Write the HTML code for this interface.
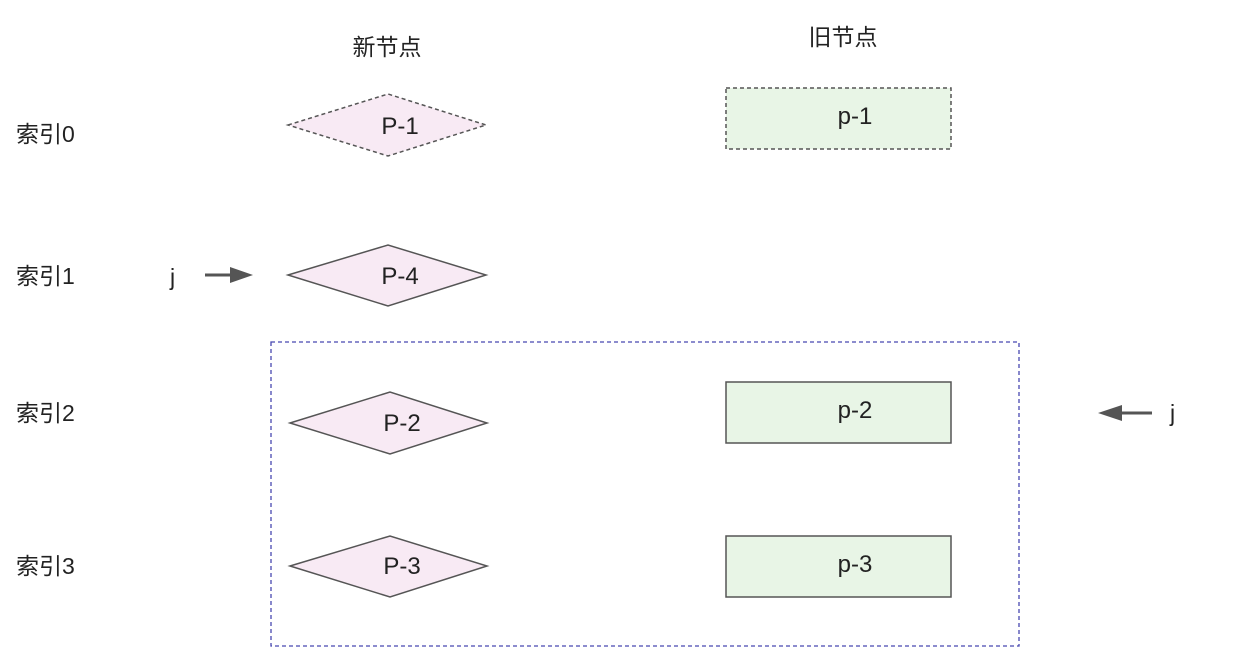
<!DOCTYPE html>
<html><head><meta charset="utf-8"><style>
html,body{margin:0;padding:0;background:#fff;width:1235px;height:652px;overflow:hidden}
svg text{font-family:"Liberation Sans","Noto Sans CJK SC",sans-serif;fill:#222}
</style></head><body>
<svg width="1235" height="652" viewBox="0 0 1235 652">
<g font-size="23">
<text x="387" y="55" text-anchor="middle">新节点</text>
<text x="843" y="45" text-anchor="middle">旧节点</text>
<text x="16" y="142">索引0</text>
<text x="16" y="284">索引1</text>
<text x="16" y="421">索引2</text>
<text x="16" y="574">索引3</text>
<text x="170" y="285">j</text>
<text x="1170" y="421">j</text>
</g>
<rect x="271" y="342" width="748" height="304" fill="none" stroke="#4848b0" stroke-width="1.3" stroke-dasharray="4,3"/>
<g stroke="#555" stroke-width="1.5" fill="#f8eaf4">
<polygon points="288,125 388,94 486,125 388,156" stroke-dasharray="4,3"/>
<polygon points="288,275 388,245 486,275 388,306"/>
<polygon points="290,423 390,392 487,423 390,454"/>
<polygon points="290,566 390,536 487,566 390,597"/>
</g>
<g stroke="#555" stroke-width="1.5" fill="#e8f5e6">
<rect x="726" y="88" width="225" height="61" stroke-dasharray="4,3"/>
<rect x="726" y="382" width="225" height="61"/>
<rect x="726" y="536" width="225" height="61"/>
</g>
<g font-size="24" text-anchor="middle">
<text x="400" y="134">P-1</text>
<text x="400" y="284">P-4</text>
<text x="402" y="431">P-2</text>
<text x="402" y="574">P-3</text>
<text x="855" y="124">p-1</text>
<text x="855" y="418">p-2</text>
<text x="855" y="572">p-3</text>
</g>
<g fill="#555" stroke="#555">
<line x1="205" y1="275" x2="232" y2="275" stroke-width="3"/>
<polygon points="230,267 253,275 230,283" stroke="none"/>
<line x1="1120" y1="413" x2="1152" y2="413" stroke-width="3"/>
<polygon points="1122,405 1098,413 1122,421" stroke="none"/>
</g>
</svg>
</body></html>
